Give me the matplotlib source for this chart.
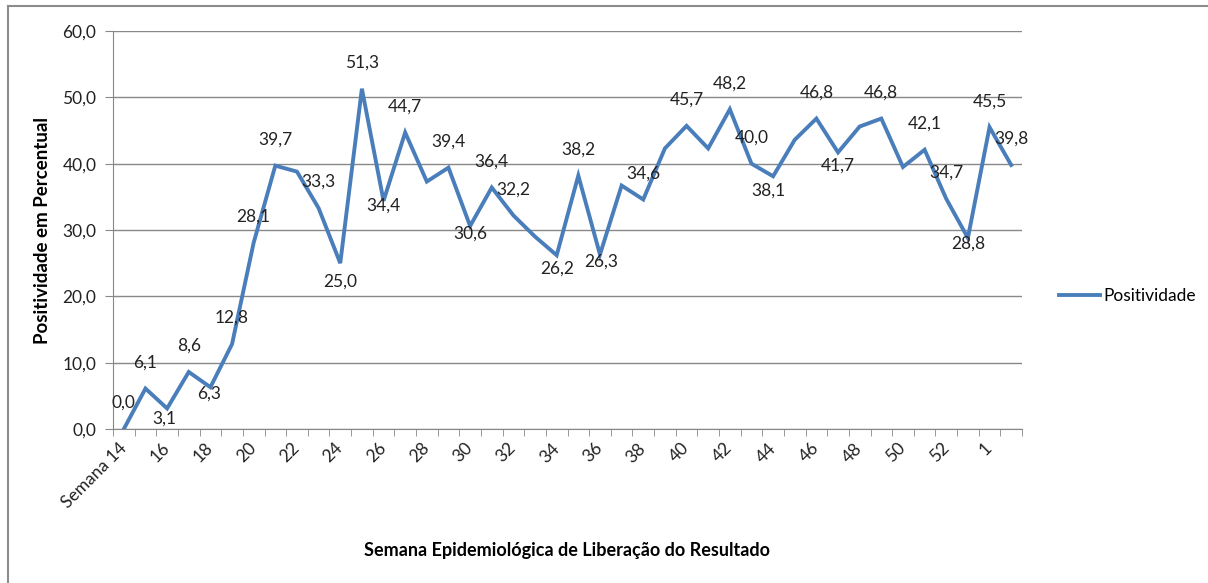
import matplotlib.pyplot as plt
from matplotlib.lines import Line2D

plt.rcParams['font.family'] = ['Lato', 'DejaVu Sans']

weeks = list(range(14, 54)) + [1, 2]
positividade = [0.0, 6.1, 3.1, 8.6, 6.3, 12.8, 28.1, 39.7, 38.8, 33.3,
                25.0, 51.3, 34.4, 44.7, 37.3, 39.4, 30.6, 36.4, 32.2, 29.0,
                26.2, 38.2, 26.3, 36.7, 34.6, 42.3, 45.7, 42.3, 48.2, 40.0,
                38.1, 43.6, 46.8, 41.7, 45.6, 46.8, 39.5, 42.1, 34.7, 28.8,
                45.5, 39.8]
# weeks whose point has no data label in the original
unlabeled = [22, 28, 33, 37, 39, 41, 45, 48, 50]

tick_labels = []
for i, w in enumerate(weeks):
    if i == 0:
        tick_labels.append("Semana 14")
    elif i % 2 == 0:
        tick_labels.append(str(w))
    else:
        tick_labels.append("")

# labels drawn under the point (pixel offsets), the rest go above
below = {16: (-3, -10), 18: (-1, -6), 24: (0, -18), 26: (0, -5), 30: (0, -8),
         34: (0, -13), 36: (1, -7), 44: (-5, -14), 47: (0, -13), 53: (0, -6)}

blue = '#4A7EBB'
grid_c = '#888888'

fig = plt.figure(figsize=(12.08, 5.83), dpi=100)
ax = fig.add_axes([113 / 1208, 154 / 583, 909 / 1208, 398 / 583])

x = list(range(len(weeks)))
ax.plot(x, positividade, color=blue, lw=2.8, label='Positividade',
        solid_joinstyle='miter')

for i, (w, v) in enumerate(zip(weeks, positividade)):
    if w in unlabeled:
        continue
    dx, dy = below.get(w, (0, 26))
    ax.annotate(f"{v:.1f}".replace('.', ','), (i, v), xytext=(dx, dy),
                textcoords='offset pixels', ha='center', va='center',
                fontsize=12.5, color='#222222')

ax.set_xlim(-0.5, len(weeks) - 0.5)
ax.set_ylim(0, 60)
ax.set_yticks(range(0, 61, 10))
ax.set_yticklabels([f"{t},0" for t in range(0, 61, 10)], fontsize=12.5, color='#222222')
ax.yaxis.grid(True, color=grid_c, lw=1)
ax.set_axisbelow(True)

ax.set_xticks(x)
ax.set_xticklabels(tick_labels, rotation=45, ha='right', va='center',
                   rotation_mode='anchor', fontsize=12.5, color='#222222')
ax.set_xticks([i - 0.5 for i in range(len(weeks) + 1)], minor=True)
ax.tick_params(axis='x', which='major', length=0, pad=12)
ax.tick_params(axis='x', which='minor', length=5, color=grid_c)
ax.tick_params(axis='y', length=6, color=grid_c, pad=6)

for s in ['top', 'right']:
    ax.spines[s].set_visible(False)
for s in ['left', 'bottom']:
    ax.spines[s].set_color(grid_c)

ax.set_xlabel("Semana Epidemiológica de Liberação do Resultado",
              fontsize=13, fontweight='bold', labelpad=22)
ax.set_ylabel("Positividade em Percentual", fontsize=13.5, fontweight='bold',
              labelpad=8)

ax.legend(loc='center left', bbox_to_anchor=(1043 / 1208, 1 - 296 / 583),
          bbox_transform=fig.transFigure, frameon=False, fontsize=12.5,
          handlelength=2.4, handletextpad=0.2)

# outer chart border
fig.add_artist(Line2D([8 / 1208, 8 / 1208], [0, 1 - 6 / 583], color='#8c8c8c', lw=1.5))
fig.add_artist(Line2D([8 / 1208, 1], [1 - 6 / 583, 1 - 6 / 583], color='#8c8c8c', lw=1.5))

plt.savefig('out.png', dpi=100)
